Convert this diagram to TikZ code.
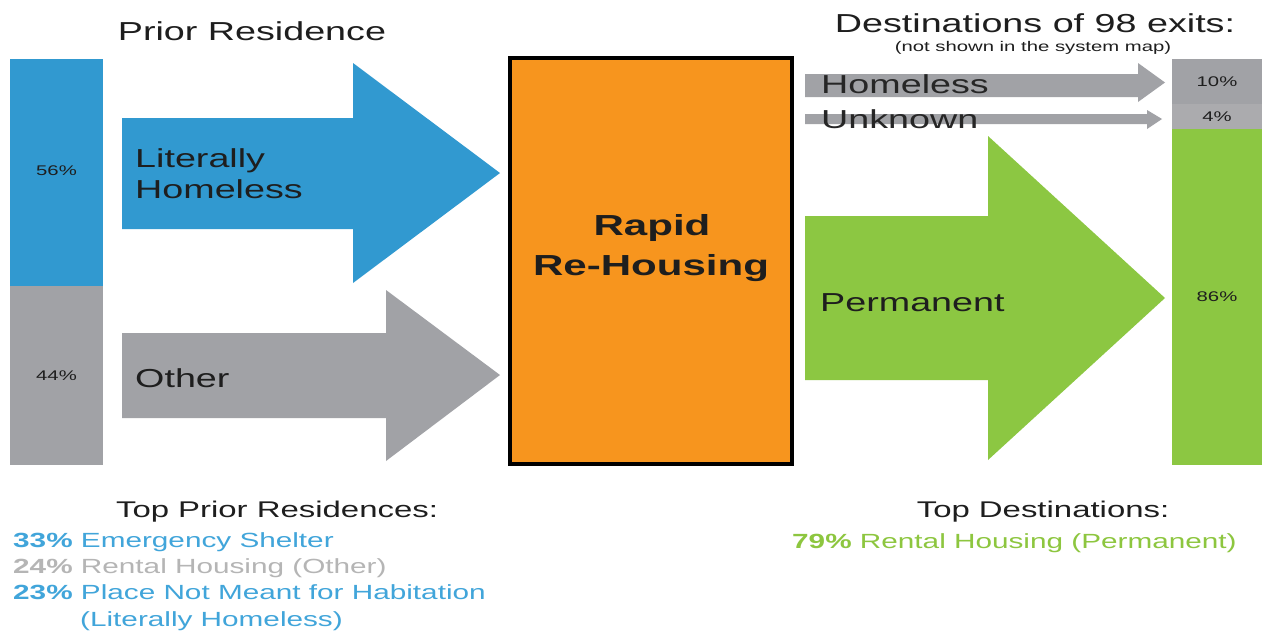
\documentclass[tikz,border=0pt]{standalone}
\usepackage{fontspec}
\setmainfont{Liberation Sans}[FakeStretch=1.45]
\definecolor{hblue}{HTML}{3199D0}
\definecolor{hgray}{HTML}{A1A2A6}
\definecolor{hgraylt}{HTML}{ABABAE}
\definecolor{hgreen}{HTML}{8CC742}
\definecolor{horange}{HTML}{F7951E}
\definecolor{htext}{HTML}{1E1E1E}
\definecolor{tblue}{HTML}{41A5DA}
\definecolor{tgray}{HTML}{B5B5B5}
\definecolor{tgreen}{HTML}{8DC63F}
\begin{document}
\begin{tikzpicture}[x=1pt,y=-1pt,
  lbl/.style={inner sep=0pt,text=htext,anchor=base west,font=\fontsize{26}{30}\selectfont},
  pct/.style={inner sep=0pt,text=htext,font=\fontsize{14}{16}\selectfont},
  head/.style={inner sep=0pt,text=htext,anchor=base,font=\fontsize{26}{30}\selectfont},
  list/.style={inner sep=0pt,anchor=base west,font=\fontsize{20.5}{24}\selectfont}]
\useasboundingbox[fill=white] (0,0) rectangle (1262,633);

% left stacked bar
\fill[hblue] (10,59) rectangle (103,286);
\fill[hgray] (10,286) rectangle (103,465);
\node[pct] (p56) at (56.5,171) {56\%};
\node[pct] (p44) at (56.5,376) {44\%};

% left arrows
\fill[hblue] (122,118) -- (353,118) -- (353,63) -- (500,173) -- (353,283) -- (353,229) -- (122,229) -- cycle;
\fill[hgray] (122,333) -- (386,333) -- (386,290) -- (500,375) -- (386,461) -- (386,418) -- (122,418) -- cycle;
\node[lbl] (lit) at (135,167) {Literally};
\node[lbl] (hom) at (135,198) {Homeless};
\node[lbl] (oth) at (135,387) {Other};

% central box
\node[draw=black,line width=3.5pt,fill=horange,minimum width=282pt,minimum height=406pt,inner sep=0pt] (rrh) at (651,261) {};
\node[inner sep=0pt,anchor=base,text=htext,font=\bfseries\fontsize{29}{33}\selectfont] (rap) at (652,235) {Rapid};
\node[inner sep=0pt,anchor=base,text=htext,font=\bfseries\fontsize{29}{33}\selectfont] (reh) at (651,275) {Re-Housing};

% right arrows
\fill[hgray] (805,74) -- (1138,74) -- (1138,63) -- (1165,82.5) -- (1138,102) -- (1138,97) -- (805,97) -- cycle;
\fill[hgray] (805,114) -- (1147,114) -- (1147,110) -- (1162,119) -- (1147,129) -- (1147,124) -- (805,124) -- cycle;
\fill[hgreen] (805,216) -- (988,216) -- (988,136) -- (1165,298) -- (988,460) -- (988,380) -- (805,380) -- cycle;
\node[lbl,text=black!85] (homr) at (821,93) {Homeless};
\node[lbl,text=black!85] (unk) at (821,128) {Unknown};
\node[lbl] (perm) at (820,311) {Permanent};

% right stacked bar
\fill[hgray] (1172,59) rectangle (1262,104);
\fill[hgraylt] (1172,104) rectangle (1262,129);
\fill[hgreen] (1172,129) rectangle (1262,465);
\node[pct] (p10) at (1217,82) {10\%};
\node[pct] (p4) at (1217,117) {4\%};
\node[pct] (p86) at (1217,297) {86\%};

% headings
\node[head] (prior) at (252,40) {Prior Residence};
\node[head] (dest) at (1035,32) {Destinations of 98 exits:};
\node[inner sep=0pt,anchor=base,text=htext,font=\fontsize{14}{16}\selectfont] (nsm) at (1033,51) {(not shown in the system map)};

% bottom lists
\node[head,font=\fontsize{22.7}{26}\selectfont] (tpr) at (277,517) {Top Prior Residences:};
\node[list,text=tblue] (l1) at (13,547) {\textbf{33\%} Emergency Shelter};
\node[list,text=tgray] (l2) at (13,573) {\textbf{24\%} Rental Housing (Other)};
\node[list,text=tblue] (l3) at (13,599) {\textbf{23\%} Place Not Meant for Habitation};
\node[list,text=tblue] (l4) at (80,626) {(Literally Homeless)};
\node[head,font=\fontsize{22.7}{26}\selectfont] (tdst) at (1043,517) {Top Destinations:};
\node[list,text=tgreen] (r1) at (792,548) {\textbf{79\%} Rental Housing (Permanent)};
\end{tikzpicture}
\end{document}
